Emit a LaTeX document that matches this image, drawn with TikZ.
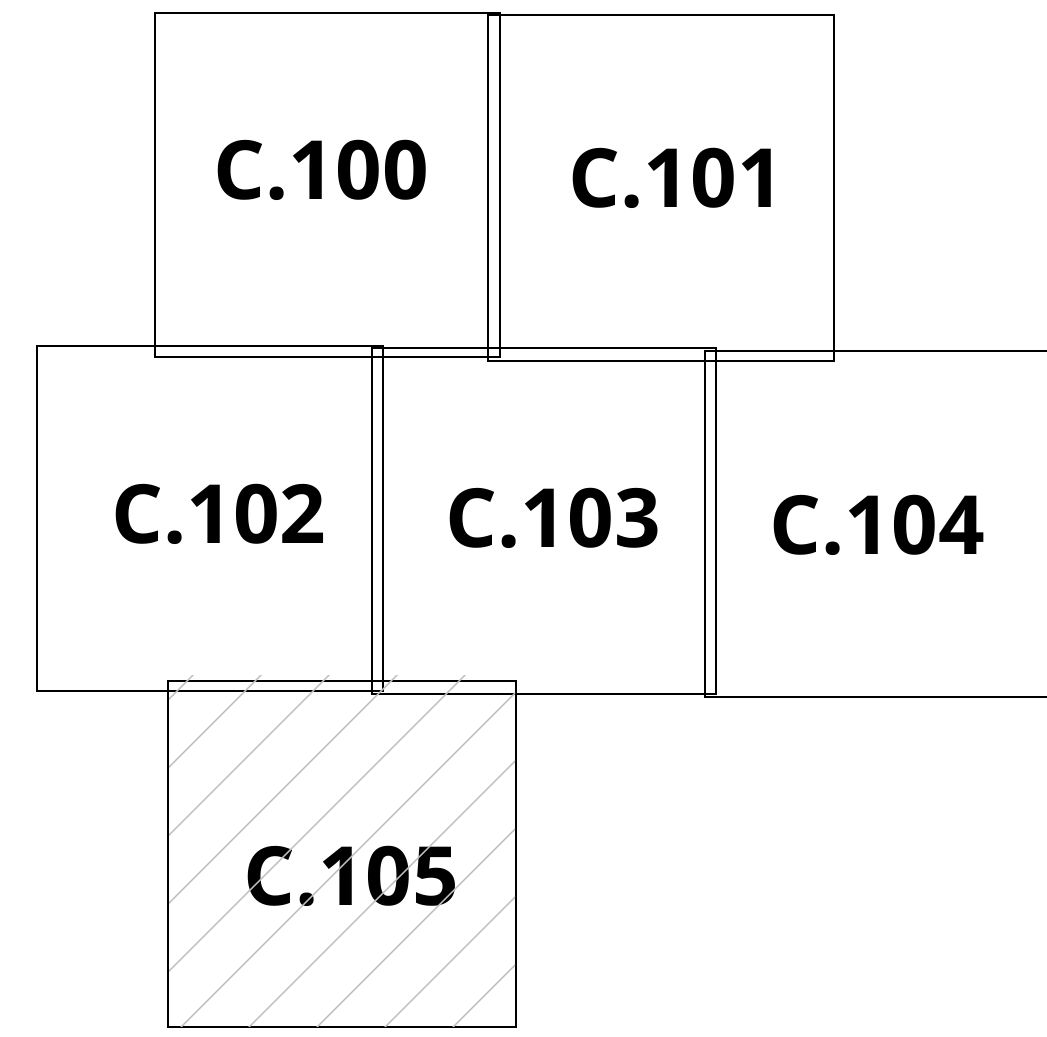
\documentclass[tikz,border=0pt]{standalone}
\usepackage{fontspec}
\newfontfamily\roomfont{Open Sans}[BoldFont={Open Sans Bold}]
\usepackage{tikz}

\tikzset{
  room/.style={draw, line width=1.4pt},
  hatchline/.style={draw=black!25, line width=0.8pt},
  roomlabel/.style={font=\roomfont\bfseries\fontsize{46.5}{50}\selectfont, inner sep=0pt}
}

\begin{document}
\begin{tikzpicture}[x=0.02cm, y=-0.02cm]
  \useasboundingbox (0, 0) rectangle (1047, 1036);
  \draw[room] (155, 13) rectangle (500, 357);
  \draw[room] (488, 15) rectangle (834, 361);
  \draw[room] (37, 346) rectangle (383, 691);
  \draw[room] (372, 348) rectangle (716, 694);
  \draw[room] (1047, 351) -- (705, 351) -- (705, 697) -- (1047, 697);
  \draw[room] (168, 681) rectangle (516, 1027);
  \node[roomlabel] (c100) at (321, 170) {C.100};
  \node[roomlabel] (c101) at (676, 178) {C.101};
  \node[roomlabel] (c102) at (219, 514) {C.102};
  \node[roomlabel] (c103) at (553, 518) {C.103};
  \node[roomlabel] (c104) at (877, 525) {C.104};
  \node[roomlabel] (c105) at (351, 876) {C.105};
  % hatching of C.105, over its label
  \begin{scope}
    \clip (169, 675) rectangle (515, 1026);
    \foreach \c in {868, 936, ..., 1480}
      \draw[hatchline] (\c-1100, 1100) -- (\c-600, 600);
  \end{scope}
\end{tikzpicture}
\end{document}
